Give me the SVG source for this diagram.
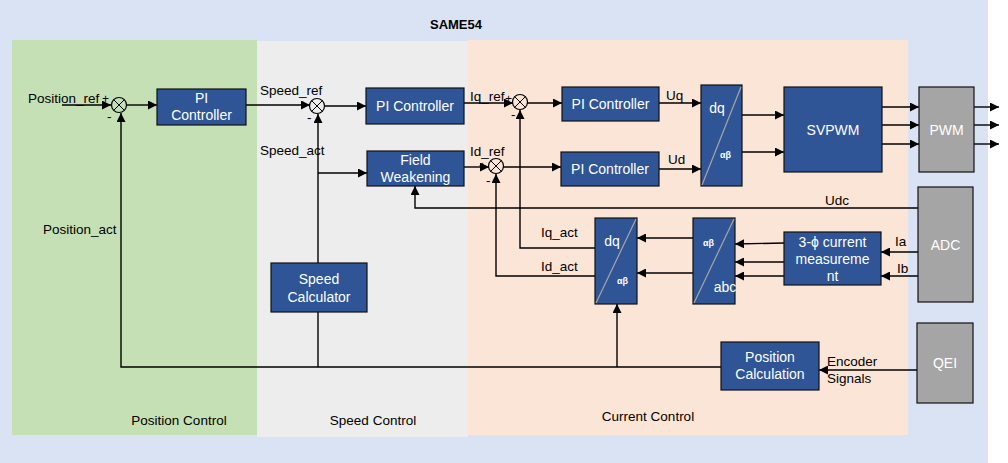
<svg xmlns="http://www.w3.org/2000/svg" width="1008" height="463" viewBox="0 0 1008 463">
<style>
text{font-family:"Liberation Sans",Arial,sans-serif;font-size:13.5px;fill:#000}
.w{fill:#fff;font-size:14px;text-anchor:middle}
.sm{fill:#fff;font-size:9px;font-weight:bold}
.node{fill:#2f5597;stroke:#111;stroke-width:1.2}
.gray{fill:#a5a5a5;stroke:#111;stroke-width:1.2}
.ln{stroke:#000;stroke-width:1.4;fill:none}
.ar{marker-end:url(#ah)}
.diag{stroke:#a6a6a6;stroke-width:1.2}
.sum{fill:none;stroke:#000;stroke-width:1.2}
.rl{font-size:13.5px;text-anchor:middle}
.pm{font-size:12px}
</style>
<defs>
<marker id="ah" viewBox="0 0 10 10" refX="10" refY="5" markerWidth="9" markerHeight="9" markerUnits="userSpaceOnUse" orient="auto">
<path d="M0,0 L10,5 L0,10 z" fill="#000"/>
</marker>
</defs>
<rect x="0" y="0" width="988" height="463" fill="#dae3f3"/>
<rect x="988" y="0" width="20" height="463" fill="#fff"/>
<g id="regions">
<rect x="12" y="40" width="245" height="395" fill="#c5e0b4"/>
<rect x="257" y="41" width="211" height="396" fill="#ededed"/>
<rect x="468" y="40" width="440" height="395" fill="#fbe5d6"/>
</g>
<text x="456" y="29" style="font-weight:bold;font-size:13px" text-anchor="middle">SAME54</text>
<text class="rl" x="179" y="425">Position Control</text>
<text class="rl" x="373" y="425">Speed Control</text>
<text class="rl" x="648" y="421">Current Control</text>

<g id="connectors">
<line class="ln ar" x1="62" y1="105" x2="111" y2="105"/>
<line class="ln ar" x1="127" y1="105" x2="157" y2="105"/>
<line class="ln ar" x1="246" y1="105" x2="310" y2="105"/>
<line class="ln ar" x1="325" y1="106" x2="366" y2="106"/>
<line class="ln ar" x1="464" y1="103" x2="513" y2="103"/>
<line class="ln ar" x1="464" y1="167" x2="489" y2="167"/>
<line class="ln ar" x1="527" y1="103" x2="562" y2="103"/>
<line class="ln ar" x1="503" y1="167" x2="561" y2="167"/>
<line class="ln ar" x1="659" y1="103" x2="701" y2="103"/>
<line class="ln ar" x1="659" y1="169" x2="701" y2="169"/>
<line class="ln ar" x1="742" y1="115" x2="784" y2="115"/>
<line class="ln ar" x1="742" y1="152" x2="784" y2="152"/>
<line class="ln ar" x1="882" y1="107" x2="919" y2="107"/>
<line class="ln ar" x1="882" y1="125" x2="919" y2="125"/>
<line class="ln ar" x1="882" y1="144" x2="919" y2="144"/>
<line class="ln ar" x1="974" y1="107" x2="999" y2="107"/>
<line class="ln ar" x1="974" y1="125" x2="999" y2="125"/>
<line class="ln ar" x1="974" y1="144" x2="999" y2="144"/>
<polyline class="ln ar" points="721,367 121,367 121,113"/>
<line class="ln" x1="318" y1="367" x2="318" y2="312"/>
<line class="ln ar" x1="318" y1="263" x2="318" y2="114"/>
<line class="ln ar" x1="318" y1="173" x2="367" y2="173"/>
<line class="ln ar" x1="617" y1="367" x2="617" y2="304"/>
<polyline class="ln ar" points="918,208 415,208 415,186"/>
<polyline class="ln ar" points="595,248 520,248 520,110"/>
<polyline class="ln ar" points="595,276 496,276 496,174"/>
<line class="ln ar" x1="693" y1="238" x2="637" y2="238"/>
<line class="ln ar" x1="693" y1="273" x2="637" y2="273"/>
<line class="ln ar" x1="784" y1="243" x2="735" y2="244"/>
<line class="ln ar" x1="784" y1="262" x2="735" y2="262"/>
<line class="ln ar" x1="784" y1="276" x2="735" y2="276"/>
<line class="ln ar" x1="918" y1="252" x2="881" y2="252"/>
<line class="ln ar" x1="921" y1="276" x2="881" y2="276"/>
<line class="ln ar" x1="917" y1="370" x2="819" y2="370"/>
</g>

<g id="sum_pos"><circle class="sum" cx="119" cy="105" r="7.5"/><path class="ln" d="M113.7,99.7 L124.3,110.3 M124.3,99.7 L113.7,110.3" style="stroke-width:1"/></g>
<g id="sum_speed"><circle class="sum" cx="317" cy="106" r="7.5"/><path class="ln" d="M311.7,100.7 L322.3,111.3 M322.3,100.7 L311.7,111.3" style="stroke-width:1"/></g>
<g id="sum_iq"><circle class="sum" cx="520" cy="102" r="7.5"/><path class="ln" d="M514.7,96.7 L525.3,107.3 M525.3,96.7 L514.7,107.3" style="stroke-width:1"/></g>
<g id="sum_id"><circle class="sum" cx="496" cy="166" r="7.5"/><path class="ln" d="M490.7,160.7 L501.3,171.3 M501.3,160.7 L490.7,171.3" style="stroke-width:1"/></g>

<g id="labels">
<text x="28" y="103">Position_ref</text>
<text class="pm" x="102" y="103">+</text>
<text x="107" y="121">-</text>
<text x="43" y="234">Position_act</text>
<text x="260" y="95">Speed_ref</text>
<text class="pm" x="300" y="109">+</text>
<text x="307" y="122">-</text>
<text x="260" y="155">Speed_act</text>
<text x="470" y="101">Iq_ref</text>
<text class="pm" x="505" y="103">+</text>
<text x="511" y="119">-</text>
<text x="470" y="156">Id_ref</text>
<text class="pm" x="479" y="170">+</text>
<text x="486" y="185">-</text>
<text x="666" y="100">Uq</text>
<text x="668" y="164">Ud</text>
<text x="825" y="205">Udc</text>
<text x="541" y="237">Iq_act</text>
<text x="541" y="271">Id_act</text>
<text x="895" y="246">Ia</text>
<text x="897" y="273">Ib</text>
<text x="827" y="366">Encoder</text>
<text x="827" y="383">Signals</text>
</g>

<g id="pi_pos"><rect class="node" x="157" y="89" width="89" height="36"/><text class="w" x="201.5" y="103">PI</text><text class="w" x="201.5" y="120">Controller</text></g>
<g id="pi_speed"><rect class="node" x="366" y="88" width="98" height="36"/><text class="w" x="415" y="111">PI Controller</text></g>
<g id="field_weakening"><rect class="node" x="367" y="151" width="97" height="35"/><text class="w" x="415.5" y="165">Field</text><text class="w" x="415.5" y="182">Weakening</text></g>
<g id="speed_calc"><rect class="node" x="271" y="263" width="96" height="49"/><text class="w" x="319" y="284">Speed</text><text class="w" x="319" y="302">Calculator</text></g>
<g id="pi_iq"><rect class="node" x="562" y="87" width="97" height="34"/><text class="w" x="610.5" y="109">PI Controller</text></g>
<g id="pi_id"><rect class="node" x="561" y="152" width="98" height="34"/><text class="w" x="610" y="174">PI Controller</text></g>
<g id="inv_park"><rect class="node" x="701" y="85" width="41" height="101"/><line class="diag" x1="702" y1="185" x2="741" y2="87"/><text class="w" x="717" y="113">dq</text><text class="sm" x="720" y="158">αβ</text></g>
<g id="svpwm"><rect class="node" x="784" y="87" width="98" height="85"/><text class="w" x="833" y="135">SVPWM</text></g>
<g id="pwm"><rect class="gray" x="919" y="87" width="55" height="85"/><text class="w" x="946.5" y="135">PWM</text></g>
<g id="adc"><rect class="gray" x="918" y="187" width="55" height="115"/><text class="w" x="945.5" y="250">ADC</text></g>
<g id="qei"><rect class="gray" x="917" y="323" width="56" height="80"/><text class="w" x="945" y="368">QEI</text></g>
<g id="pos_calc"><rect class="node" x="721" y="342" width="98" height="48"/><text class="w" x="770" y="362">Position</text><text class="w" x="770" y="379">Calculation</text></g>
<g id="current_meas"><rect class="node" x="784" y="232" width="97" height="53"/><text class="w" x="832.5" y="247">3-ϕ current</text><text class="w" x="832.5" y="264">measureme</text><text class="w" x="832.5" y="281">nt</text></g>
<g id="clarke"><rect class="node" x="693" y="218" width="42" height="86"/><line class="diag" x1="694" y1="303" x2="734" y2="219"/><text class="sm" x="703" y="246">αβ</text><text class="w" x="725" y="292">abc</text></g>
<g id="park"><rect class="node" x="595" y="218" width="42" height="86"/><line class="diag" x1="596" y1="303" x2="636" y2="219"/><text class="w" x="612" y="246">dq</text><text class="sm" x="617" y="284">αβ</text></g>
</svg>
